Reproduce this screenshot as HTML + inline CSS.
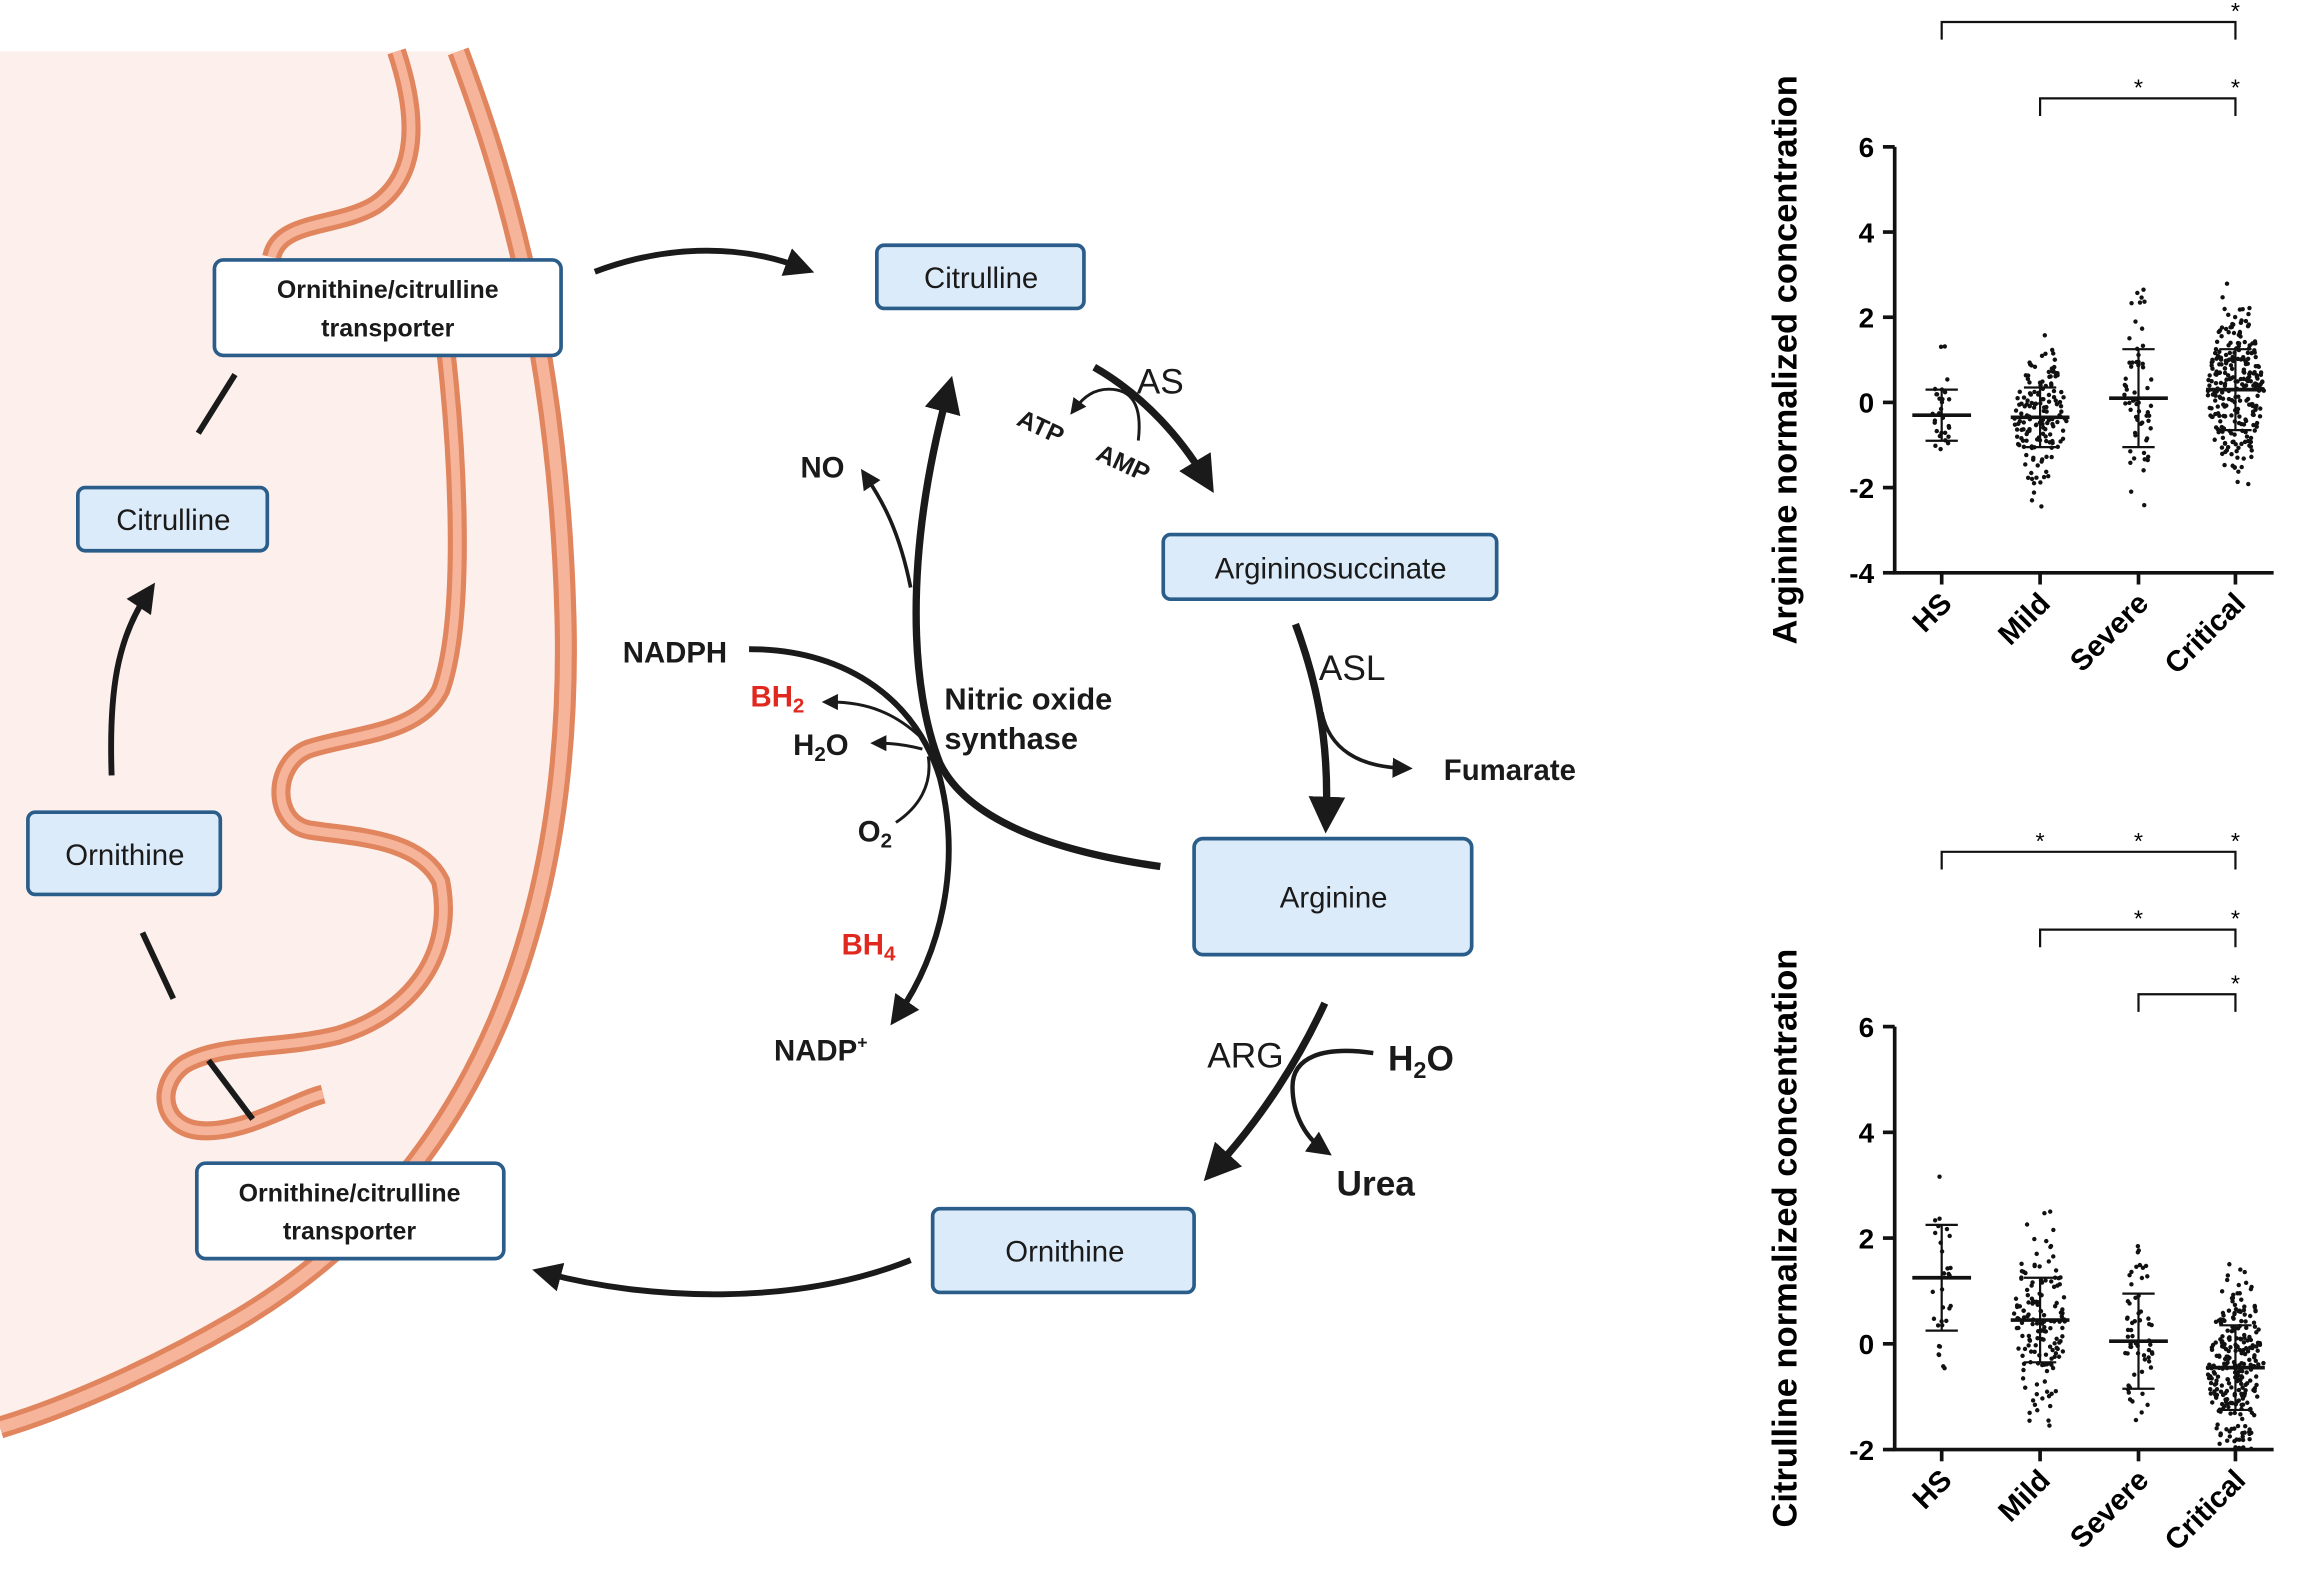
<!DOCTYPE html>
<html><head><meta charset="utf-8"><style>
html,body{margin:0;padding:0;background:#fff}
svg{display:block}
text{font-family:"Liberation Sans",sans-serif}
.b{font-weight:bold}
</style></head><body>
<svg id="s" width="2303" height="1570" viewBox="0 0 1568 1069" preserveAspectRatio="none" xmlns="http://www.w3.org/2000/svg">
<defs>
<marker id="ah" viewBox="0 0 10 10" refX="5" refY="5" markerWidth="5.5" markerHeight="5.5" orient="auto"><path d="M0,0 L10,5 L0,10 z" fill="#1a1a1a"/></marker>
<marker id="as" viewBox="0 0 10 10" refX="5" refY="5" markerWidth="5" markerHeight="5" orient="auto"><path d="M0,0 L10,5 L0,10 z" fill="#1a1a1a"/></marker>
</defs>
<!-- mitochondrion -->
<path d="M0,35 L312,35 C340,110 380,230 385,420 C390,620 330,800 160,900 C100,935 40,960 0,972 Z" fill="#fdf0ec"/>
<path d="M312,35 C340,110 380,230 385,420 C390,620 330,800 160,900 C100,935 40,960 0,972" fill="none" stroke="#e0855e" stroke-width="15"/>
<path d="M312,35 C340,110 380,230 385,420 C390,620 330,800 160,900 C100,935 40,960 0,972" fill="none" stroke="#f6b49a" stroke-width="8"/>
<g fill="none">
<path d="M270,35 C285,80 285,120 255,140 C230,155 190,150 185,175 M300,210 C312,300 318,420 300,470 C285,500 240,500 210,510 C185,520 185,560 210,565 C240,570 285,570 300,600 C310,650 280,690 230,705 C190,715 150,710 125,725 C105,740 110,770 140,770 C170,770 200,750 220,745" stroke="#e0855e" stroke-width="13"/>
<path d="M270,35 C285,80 285,120 255,140 C230,155 190,150 185,175 M300,210 C312,300 318,420 300,470 C285,500 240,500 210,510 C185,520 185,560 210,565 C240,570 285,570 300,600 C310,650 280,690 230,705 C190,715 150,710 125,725 C105,740 110,770 140,770 C170,770 200,750 220,745" stroke="#f6b49a" stroke-width="6"/>
</g>
<!-- boxes -->
<g stroke="#2a5d8a" stroke-width="2.5">
<rect x="146" y="177" width="236" height="65" rx="6" fill="#fff"/>
<rect x="134" y="792" width="209" height="65" rx="6" fill="#fff"/>
<rect x="53" y="332" width="129" height="43" rx="5" fill="#dcebf9"/>
<rect x="19" y="553" width="131" height="56" rx="5" fill="#dcebf9"/>
<rect x="597" y="167" width="141" height="43" rx="5" fill="#dcebf9"/>
<rect x="792" y="364" width="227" height="44" rx="5" fill="#dcebf9"/>
<rect x="813" y="571" width="189" height="79" rx="6" fill="#dcebf9"/>
<rect x="635" y="823" width="178" height="57" rx="5" fill="#dcebf9"/>
</g>
<g font-size="19" text-anchor="middle" fill="#1a1a1a">
<text x="264" y="203" class="b" font-size="17">Ornithine/citrulline</text>
<text x="264" y="229" class="b" font-size="17">transporter</text>
<text x="238" y="818" class="b" font-size="17">Ornithine/citrulline</text>
<text x="238" y="844" class="b" font-size="17">transporter</text>
<text x="118" y="361" font-size="20">Citrulline</text>
<text x="85" y="589" font-size="20">Ornithine</text>
<text x="668" y="196" font-size="20">Citrulline</text>
<text x="906" y="394" font-size="20">Argininosuccinate</text>
<text x="908" y="618" font-size="20">Arginine</text>
<text x="725" y="859" font-size="20">Ornithine</text>
</g>
<!-- arrows -->
<g fill="none" stroke="#1a1a1a" stroke-linecap="butt">
<path d="M405,185 C450,168 500,165 545,182" stroke-width="4" marker-end="url(#as)"/>
<path d="M135,295 L160,255" stroke-width="4"/>
<path d="M76,528 C74,470 80,435 100,405" stroke-width="4" marker-end="url(#as)"/>
<path d="M97,635 L118,680" stroke-width="4"/>
<path d="M142,722 L172,762" stroke-width="4"/>
<path d="M620,858 C540,890 440,885 372,867" stroke-width="4" marker-end="url(#as)"/>
<path d="M745,250 C780,270 805,300 820,325" stroke-width="5" marker-end="url(#as)"/>
<path d="M775,300 C778,275 770,265 755,265 C745,265 738,270 732,278" stroke-width="2" marker-end="url(#ah)"/>
<path d="M882,425 C895,460 905,500 903,555" stroke-width="5" marker-end="url(#as)"/>
<path d="M900,485 C905,510 925,522 955,523" stroke-width="2.5" marker-end="url(#ah)"/>
<path d="M902,683 C885,720 860,760 828,795" stroke-width="5" marker-end="url(#as)"/>
<path d="M935,717 C900,712 880,720 880,740 C880,760 890,775 900,782" stroke-width="3" marker-end="url(#ah)"/>
<path d="M790,590 C720,580 660,560 640,520 C620,470 615,380 645,268" stroke-width="5" marker-end="url(#as)"/>
<path d="M620,400 C612,360 600,340 590,325" stroke-width="2.5" marker-end="url(#ah)"/>
<path d="M510,442 C580,442 625,480 640,530 C655,590 640,650 612,690" stroke-width="4" marker-end="url(#as)"/>
<path d="M630,505 C610,485 590,478 565,478" stroke-width="2" marker-end="url(#ah)"/>
<path d="M628,510 C620,508 610,506 598,506" stroke-width="2" marker-end="url(#ah)"/>
<path d="M632,515 C635,535 625,550 610,560" stroke-width="2"/>
</g>
<g fill="#1a1a1a" font-size="20">
<text x="774" y="268" font-size="24">AS</text>
<text x="692" y="298" class="b" font-size="17" transform="rotate(25 712 292)">ATP</text>
<text x="744" y="322" class="b" font-size="17" transform="rotate(25 766 320)">AMP</text>
<text x="898" y="463" font-size="24">ASL</text>
<text x="983" y="531" class="b">Fumarate</text>
<text x="822" y="727" font-size="24">ARG</text>
<text x="945" y="729" class="b" font-size="24">H<tspan font-size="16" dy="5">2</tspan><tspan dy="-5">O</tspan></text>
<text x="910" y="814" class="b" font-size="24">Urea</text>
<text x="545" y="325" class="b">NO</text>
<text x="424" y="451" class="b">NADPH</text>
<text x="511" y="481" class="b" fill="#e0281e">BH<tspan font-size="14" dy="4">2</tspan></text>
<text x="540" y="514" class="b">H<tspan font-size="14" dy="4">2</tspan><tspan dy="-4">O</tspan></text>
<text x="584" y="573" class="b">O<tspan font-size="14" dy="4">2</tspan></text>
<text x="573" y="650" class="b" fill="#e0281e">BH<tspan font-size="14" dy="4">4</tspan></text>
<text x="527" y="722" class="b">NADP<tspan font-size="12" dy="-8">+</tspan></text>
<text x="643" y="483" class="b" font-size="21">Nitric oxide</text>
<text x="643" y="510" class="b" font-size="21">synthase</text>
</g>
<g id="charts"></g>
</svg>
<script>
(function(){
var g=document.getElementById('charts'),ns='http://www.w3.org/2000/svg';
function el(t,a,txt){var e=document.createElementNS(ns,t);for(var k in a)e.setAttribute(k,a[k]);if(txt!=null)e.textContent=txt;g.appendChild(e);return e;}
var seed=7;function r(){seed=(seed*16807)%2147483647;return seed/2147483647;}
function gs(){return (r()+r()+r()+r()-2)*1.7;}
var xs=[1322,1389,1456,1522],cats=['HS','Mild','Severe','Critical'];
function chart(y0,ppu,ymin,ymax,label,data,brk){
 var yv=function(v){return y0-v*ppu;};
 el('line',{x1:1290,y1:yv(ymax),x2:1290,y2:yv(ymin)+1,stroke:'#111','stroke-width':2.5});
 el('line',{x1:1289,y1:yv(ymin),x2:1548,y2:yv(ymin),stroke:'#111','stroke-width':2.5});
 for(var v=ymin;v<=ymax;v+=2){el('line',{x1:1282,y1:yv(v),x2:1290,y2:yv(v),stroke:'#111','stroke-width':2.5});
  el('text',{x:1276,y:yv(v)+7,'text-anchor':'end','font-size':19,'font-weight':'bold'},v<0?'-'+(-v):''+v);}
 xs.forEach(function(x,i){el('line',{x1:x,y1:yv(ymin),x2:x,y2:yv(ymin)+8,stroke:'#111','stroke-width':2.5});
  el('text',{x:x+8,y:yv(ymin)+22,'text-anchor':'end','font-size':20,'font-weight':'bold',transform:'rotate(-45 '+(x+8)+' '+(yv(ymin)+22)+')'},cats[i]);
  var d=data[i];
  for(var k=0;k<d[0];k++){var v=d[1]+gs()*d[2];if(v<ymin)v=ymin+0.1+r()*0.3;if(v>ymax)v=ymax-0.5;var w=Math.min(20,4+d[0]/10);
   el('circle',{cx:x+(r()-0.5)*2*w*(1-Math.min(1,Math.abs(v-d[1])/(3*d[2]))*0.7),cy:yv(v),r:1.5,fill:'#111'});}
  el('line',{x1:x-20,y1:yv(d[1]),x2:x+20,y2:yv(d[1]),stroke:'#111','stroke-width':2.5});
  el('line',{x1:x,y1:yv(d[1]-d[2]),x2:x,y2:yv(d[1]+d[2]),stroke:'#111','stroke-width':1.5});
  el('line',{x1:x-11,y1:yv(d[1]-d[2]),x2:x+11,y2:yv(d[1]-d[2]),stroke:'#111','stroke-width':1.5});
  el('line',{x1:x-11,y1:yv(d[1]+d[2]),x2:x+11,y2:yv(d[1]+d[2]),stroke:'#111','stroke-width':1.5});
 });
 var cy=(yv(ymin)+yv(ymax))/2;
 el('text',{x:1223,y:cy,'text-anchor':'middle','font-size':23.5,'font-weight':'bold',transform:'rotate(-90 1223 '+cy+')'},label);
 brk.forEach(function(b){el('path',{d:'M'+b[0]+','+(b[2]+12)+' L'+b[0]+','+b[2]+' L'+b[1]+','+b[2]+' L'+b[1]+','+(b[2]+12),fill:'none',stroke:'#111','stroke-width':1.5});
  b[3].forEach(function(sx){el('text',{x:sx,y:b[2]-2,'text-anchor':'middle','font-size':16},'*');});});
}
chart(274,29,-4,6,'Arginine normalized concentration',[[30,-0.3,0.6],[150,-0.35,0.7],[60,0.1,1.15],[260,0.3,0.95]],[[1322,1522,15,[1522]],[1389,1522,67,[1456,1522]]]);
chart(915,36,-2,6,'Citrulline normalized concentration',[[30,1.25,1.0],[150,0.45,0.8],[60,0.05,0.9],[260,-0.45,0.8]],[[1322,1522,580,[1389,1456,1522]],[1389,1522,633,[1456,1522]],[1456,1522,677,[1522]]]);
})();
</script>
</body></html>
